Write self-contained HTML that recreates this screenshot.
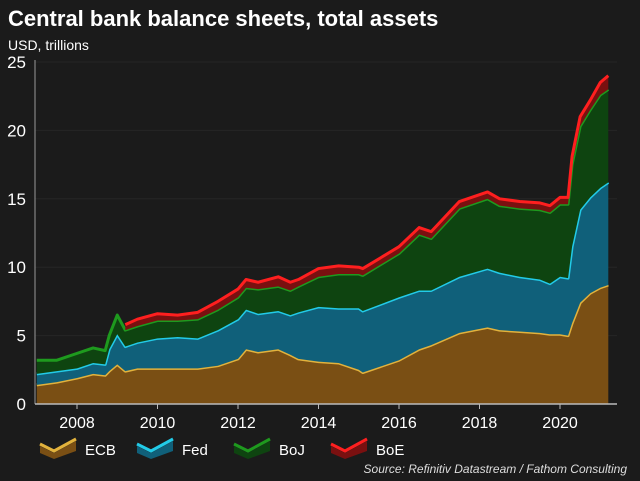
<!DOCTYPE html>
<html><head><meta charset="utf-8"><style>
body{margin:0;background:#1b1b1b;}
svg{display:block;font-family:"Liberation Sans",Arial,sans-serif;}
</style></head><body>
<svg id="chart" width="640" height="481" viewBox="0 0 640 481">
<rect x="0" y="0" width="640" height="481" fill="#1b1b1b"/>
<text x="8" y="26" fill="#fff" font-size="22" font-weight="bold">Central bank balance sheets, total assets</text>
<text x="8" y="50" fill="#fff" font-size="14">USD, trillions</text>
<g id="grid"></g><g id="areas"></g><g id="axes"></g>
<g id="legend"></g>
<text x="627" y="473" fill="#ddd" font-size="12" font-style="italic" text-anchor="end">Source: Refinitiv Datastream / Fathom Consulting</text>
</svg>
<script>
const dates=[2007.0,2007.5,2008.0,2008.4,2008.7,2008.8,2009.0,2009.2,2009.5,2010.0,2010.5,2011.0,2011.5,2012.0,2012.2,2012.5,2013.0,2013.3,2013.5,2014.0,2014.5,2015.0,2015.1,2016.0,2016.5,2016.8,2017.5,2018.2,2018.5,2019.0,2019.5,2019.75,2020.0,2020.2,2020.3,2020.5,2020.75,2021.0,2021.2];
const ecb=[1.4,1.6,1.9,2.2,2.1,2.4,2.9,2.4,2.6,2.6,2.6,2.6,2.8,3.3,4.0,3.8,4.0,3.6,3.3,3.1,3.0,2.5,2.3,3.2,4.0,4.3,5.2,5.6,5.4,5.3,5.2,5.1,5.1,5.0,5.9,7.4,8.1,8.5,8.7];
const fed=[0.8,0.8,0.7,0.8,0.8,1.6,2.2,1.8,1.9,2.2,2.3,2.2,2.6,2.9,2.9,2.8,2.8,2.9,3.4,4.0,4.0,4.5,4.5,4.6,4.3,4.0,4.1,4.3,4.2,4.0,3.9,3.7,4.2,4.2,5.6,6.8,7.0,7.3,7.5];
const boj=[1.0,0.8,1.1,1.1,1.0,1.0,1.4,1.2,1.2,1.3,1.2,1.4,1.5,1.6,1.6,1.8,1.8,1.8,1.9,2.2,2.5,2.5,2.6,3.2,4.1,3.8,5.0,5.1,4.9,5.0,5.1,5.2,5.3,5.4,6.0,6.1,6.4,6.8,6.8];
const boe=[null,null,null,null,null,null,null,0.4,0.5,0.5,0.4,0.5,0.6,0.6,0.6,0.5,0.7,0.6,0.5,0.6,0.6,0.5,0.5,0.5,0.5,0.5,0.5,0.5,0.5,0.5,0.5,0.5,0.5,0.5,0.6,0.7,0.7,0.9,1.0];
const yTicks=[0,5,10,15,20,25];
const xTicks=[2008,2010,2012,2014,2016,2018,2020];
const NS='http://www.w3.org/2000/svg';
const x=v=>77+(v-2008)*40.25;
const y=v=>404-v*13.68;
function mk(tag,attrs,parent){const e=document.createElementNS(NS,tag);for(const k in attrs)e.setAttribute(k,attrs[k]);parent.appendChild(e);return e;}
const grid=document.getElementById('grid'),areas=document.getElementById('areas'),axes=document.getElementById('axes'),legend=document.getElementById('legend');
yTicks.forEach(t=>{
 if(t>0){const g=mk('line',{x1:35,x2:617,y1:y(t),y2:y(t),stroke:'#262626','stroke-width':1},grid);
 
 }
 const l=mk('text',{x:26,y:y(t)+6,fill:'#fff','font-size':17,'text-anchor':'end'},axes);l.textContent=t;
 
 
});
const series=[
 {name:'ecb',label:'ECB',vals:ecb,fill:'#7a4f14',line:'#e2b23c'},
 {name:'fed',label:'Fed',vals:fed,fill:'#10607a',line:'#22cbe8'},
 {name:'boj',label:'BoJ',vals:boj,fill:'#0e4410',line:'#1e9a1e'},
 {name:'boe',label:'BoE',vals:boe,fill:'#7a1010',line:'#ff1f1f'}];
let base=dates.map(()=>0);
series.forEach(s=>{
 const idx=dates.map((d,i)=>i).filter(i=>s.vals[i]!==null);
 const top=base.map((b,i)=>s.vals[i]===null?b:b+s.vals[i]);
 let d='M'+idx.map(i=>x(dates[i])+','+y(top[i])).join('L');
 d+='L'+idx.slice().reverse().map(i=>x(dates[i])+','+y(base[i])).join('L')+'Z';
 const a=mk('path',{d:d,fill:s.fill},areas);
 
 
 const ln=mk('polyline',{points:idx.map(i=>x(dates[i])+','+y(top[i])).join(' '),fill:'none',stroke:s.line,'stroke-width':3,'stroke-linejoin':'round'},areas);
 
 
 base=top;
});
const ax=mk('line',{x1:35,x2:35,y1:60,y2:404,stroke:'#999','stroke-width':1},axes);


const bx=mk('line',{x1:35,x2:617,y1:404,y2:404,stroke:'#bbb','stroke-width':1.5},axes);


xTicks.forEach(t=>{
 mk('line',{x1:x(t),x2:x(t),y1:404,y2:409,stroke:'#bbb'},axes);
 const l=mk('text',{x:x(t),y:428,fill:'#fff','font-size':16,'text-anchor':'middle'},axes);l.textContent=t;
 
 
});
series.forEach((s,i)=>{
 const lx=40+i*97;
 const g=mk('g',{},legend);
 
 
 mk('path',{d:`M${lx},${446}L${lx+14},${453}L${lx+36},${441}L${lx+36},${451}L${lx+14},${459}L${lx},${453}Z`,fill:s.fill},g);
 mk('polyline',{points:`${lx},${444} ${lx+14},${451} ${lx+36},${439}`,fill:'none',stroke:s.line,'stroke-width':3},g);
 const t=mk('text',{x:lx+45,y:455,fill:'#fff','font-size':15},g);t.textContent=s.label;
});
</script>
</body></html>
